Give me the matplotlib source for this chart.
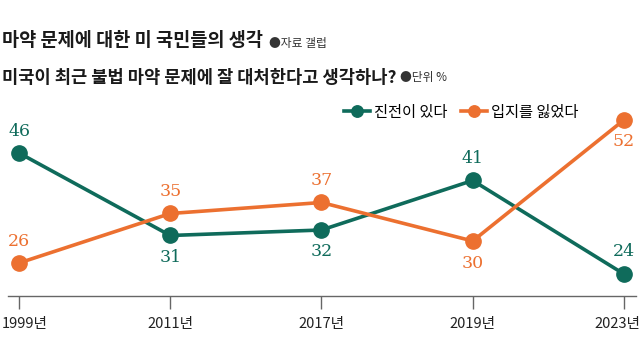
import matplotlib
matplotlib.use("Agg")
import matplotlib.pyplot as plt
import matplotlib.transforms as mt

plt.rcParams['font.family'] = ['Noto Sans CJK KR', 'DejaVu Sans']

years = ["1999년", "2011년", "2017년", "2019년", "2023년"]
progress = [46, 31, 32, 41, 24]   # 진전이 있다
lost = [26, 35, 37, 30, 52]       # 입지를 잃었다
progress_pos = ["above", "below", "below", "above", "above"]
lost_pos = ["above", "above", "above", "below", "below"]

GREEN = "#0f6b5b"
ORANGE = "#ec7030"

fig = plt.figure(figsize=(6.4, 3.45), dpi=100)
ax = fig.add_axes([8/640, (345-296)/345, (636-8)/640, (296-98)/345])
x = list(range(len(years)))

ax.plot(x, progress, color=GREEN, lw=2.6, marker='o', ms=11, clip_on=False, zorder=3,
        label="진전이 있다")
ax.plot(x, lost, color=ORANGE, lw=2.6, marker='o', ms=11, clip_on=False, zorder=3,
        label="입지를 잃었다")

for vals, pos, col in [(progress, progress_pos, GREEN), (lost, lost_pos, ORANGE)]:
    for xi, v, p in zip(x, vals, pos):
        off = 22 if p == "above" else -22
        ax.annotate(str(v), (xi, v), xytext=(0, off), textcoords='offset pixels',
                    ha='center', va='center', color=col, fontsize=12.5,
                    family='DejaVu Serif')

ax.set_xlim(-0.073, 4.08)
ax.set_ylim(20, 56)
for s in ['top', 'right', 'left']:
    ax.spines[s].set_visible(False)
ax.spines['bottom'].set_color('#666666')
ax.spines['bottom'].set_linewidth(1.0)
ax.set_yticks([])
ax.set_xticks(x)
ax.set_xticklabels(years, fontsize=10.5, color='#222222')
ax.tick_params(axis='x', length=9, width=1, color='#666666', direction='out', pad=6)
labs = ax.get_xticklabels()
labs[0].set_ha('left')
labs[-1].set_ha('right')
labs[0].set_transform(labs[0].get_transform() + mt.ScaledTranslation(-17/100, 0, fig.dpi_scale_trans))
labs[-1].set_transform(labs[-1].get_transform() + mt.ScaledTranslation(16/100, 0, fig.dpi_scale_trans))

fig.text(2/640, 1-40/345, "마약 문제에 대한 미 국민들의 생각", fontsize=13.4, fontweight='bold',
         color='#1a1a1a', va='center', ha='left')
fig.text(269/640, 1-43/345, "●자료 갤럽", fontsize=8.5, color='#333333', va='center', ha='left')
fig.text(2/640, 1-78/345, "미국이 최근 불법 마약 문제에 잘 대처한다고 생각하나?", fontsize=12.7,
         fontweight='bold', color='#1a1a1a', va='center', ha='left')
fig.text(400/640, 1-78/345, "●단위 %", fontsize=8.5, color='#333333', va='center', ha='left')

leg = ax.legend(loc='center right', ncol=2, frameon=False, fontsize=11, handlelength=1.7,
                markerscale=0.75, columnspacing=0.9, handletextpad=0.25, borderaxespad=0, borderpad=0)
leg.set_bbox_to_anchor((1 - 62/640, 1 - 112/345), transform=fig.transFigure)

fig.savefig("out.png", dpi=100)
